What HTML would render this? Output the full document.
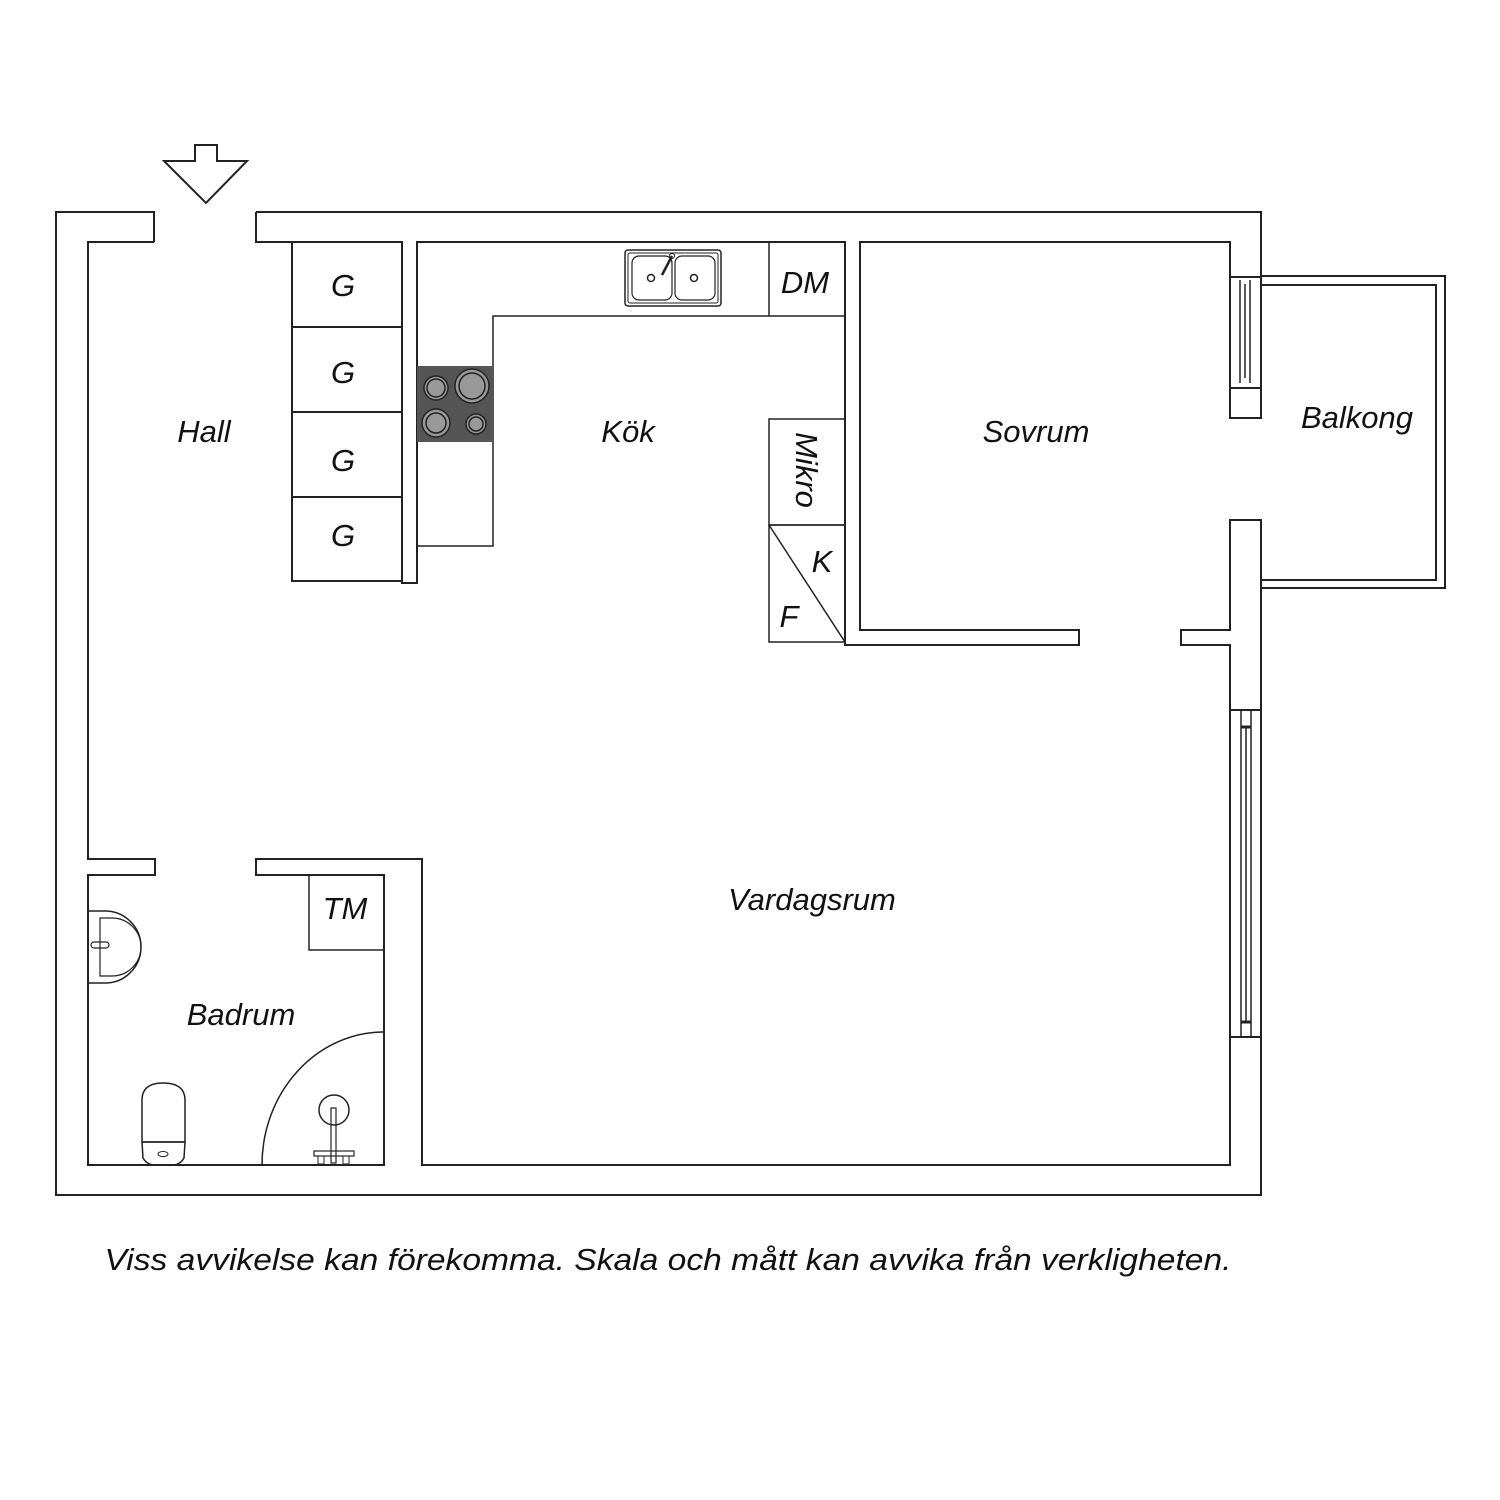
<!DOCTYPE html>
<html><head><style>
html,body{margin:0;padding:0;background:#fff;width:1500px;height:1500px;overflow:hidden}
svg{display:block}
text{font-family:"Liberation Sans",sans-serif;font-style:italic;fill:#111}
</style></head><body>
<svg width="1500" height="1500" viewBox="0 0 1500 1500" xmlns="http://www.w3.org/2000/svg">
<g fill="none" stroke="#222" stroke-width="2">
<polygon points="195,145 217,145 217,161 247,161 206,203 164,161 195,161"/>
<path d="M154,242 V212 H56 V1195 H1261 V1037"/>
<path d="M1261,710 V520 H1230 V630 H1181 V645 H1230 V710"/>
<path d="M1230,1037 V1165 H422 V859 H256 V875 H384 V1165 H88 V875 H155 V859 H88 V242 H154"/>
<path d="M256,212 H1261 V277 M1230,277 V242 H860 V630 H1079 V645 H845 V242 H417 V583 H402 V242 H256 V212"/>
<rect x="1230" y="710" width="31" height="327"/>
<line x1="1241" y1="710" x2="1241" y2="1037" stroke-width="1.5"/>
<line x1="1251" y1="710" x2="1251" y2="1037" stroke-width="1.5"/>
<line x1="1246" y1="727" x2="1246" y2="1022" stroke-width="1.5"/>
<line x1="1241" y1="727" x2="1251" y2="727" stroke-width="3"/>
<line x1="1241" y1="1022" x2="1251" y2="1022" stroke-width="3"/>
<rect x="1230" y="277" width="31" height="111"/>
<line x1="1240" y1="280" x2="1240" y2="383" stroke-width="1.5"/>
<line x1="1250" y1="280" x2="1250" y2="383" stroke-width="1.5"/>
<line x1="1245" y1="284" x2="1245" y2="378" stroke-width="1.5"/>
<rect x="1230" y="388" width="31" height="30"/>
<path d="M1261,276 H1445 V588 H1261"/>
<path d="M1261,285 H1436 V580 H1261"/>
<rect x="292" y="242" width="110" height="85"/>
<rect x="292" y="327" width="110" height="85"/>
<rect x="292" y="412" width="110" height="85"/>
<rect x="292" y="497" width="110" height="84"/>
<path d="M845,316 H493 V546 H417" stroke-width="1.5"/>
<line x1="769" y1="242" x2="769" y2="316" stroke-width="1.5"/>
<rect x="625" y="250" width="96" height="56" rx="3" stroke-width="1.5"/>
<rect x="628" y="253" width="90" height="50" rx="2" stroke-width="1"/>
<rect x="632" y="256" width="40" height="44" rx="7" stroke-width="1.2"/>
<rect x="675" y="256" width="40" height="44" rx="7" stroke-width="1.2"/>
<circle cx="651" cy="278" r="3.5" stroke-width="1.5"/>
<circle cx="694" cy="278" r="3.5" stroke-width="1.5"/>
<line x1="662" y1="275" x2="672" y2="256" stroke-width="2.5"/>
<circle cx="672" cy="256" r="2.5" stroke-width="1"/>
<rect x="769" y="419" width="76" height="106" stroke-width="1.5"/>
<rect x="769" y="525" width="76" height="117" stroke-width="1.5"/>
<line x1="769" y1="525" x2="845" y2="642" stroke-width="1.5"/>
<rect x="309" y="875" width="75" height="75" stroke-width="1.5"/>
<path d="M88,911 H105 A36,36 0 0 1 105,983 H88" stroke-width="1.5"/>
<path d="M100,918 H112 A29,29 0 0 1 112,976 H100 Z" stroke-width="1.2"/>
<rect x="91" y="942" width="18" height="6" rx="3" stroke-width="1.2"/>
<path d="M262,1165 A122,133 0 0 1 384,1032" stroke-width="1.5"/>
<path d="M142,1142 V1100 Q142,1083 163,1083 Q185,1083 185,1100 V1142 Z" stroke-width="1.5"/>
<path d="M142,1142 H185 L184,1158 Q180,1165 172,1165 H155 Q147,1165 143,1158 Z" stroke-width="1.5"/>
<ellipse cx="163" cy="1154" rx="5" ry="2.5" stroke-width="1"/>
<circle cx="334" cy="1110" r="15" stroke-width="1.5"/>
<rect x="331" y="1108" width="5" height="55" stroke-width="1.2"/>
<rect x="314" y="1151" width="40" height="5" stroke-width="1.2"/>
<rect x="318" y="1156" width="6" height="8" stroke-width="1"/>
<rect x="343" y="1156" width="6" height="8" stroke-width="1"/>
</g>
<rect x="417" y="366" width="76" height="76" fill="#555"/>
<g stroke="#222" stroke-width="1.5" fill="#999">
<circle cx="436" cy="388" r="12"/><circle cx="436" cy="388" r="9" fill="none"/>
<circle cx="472" cy="386" r="17"/><circle cx="472" cy="386" r="13" fill="none"/>
<circle cx="436" cy="423" r="14"/><circle cx="436" cy="423" r="10" fill="none"/>
<circle cx="476" cy="424" r="10"/><circle cx="476" cy="424" r="7" fill="none"/>
</g>
<g font-size="31">
<text x="204" y="442" text-anchor="middle">Hall</text>
<text x="628" y="442" text-anchor="middle">Kök</text>
<text x="1036" y="442" text-anchor="middle">Sovrum</text>
<text x="1357" y="428" text-anchor="middle">Balkong</text>
<text x="812" y="910" text-anchor="middle">Vardagsrum</text>
<text x="241" y="1025" text-anchor="middle">Badrum</text>
<text x="343" y="296" text-anchor="middle">G</text>
<text x="343" y="383" text-anchor="middle">G</text>
<text x="343" y="471" text-anchor="middle">G</text>
<text x="343" y="546" text-anchor="middle">G</text>
<text x="805" y="293" text-anchor="middle">DM</text>
<text x="345" y="919" text-anchor="middle">TM</text>
<text x="822" y="572" text-anchor="middle">K</text>
<text x="789" y="627" text-anchor="middle">F</text>
<text transform="translate(796,470) rotate(90)" text-anchor="middle">Mikro</text>
</g>
<text x="668" y="1270" text-anchor="middle" font-size="31" textLength="1127" lengthAdjust="spacingAndGlyphs">Viss avvikelse kan förekomma. Skala och mått kan avvika från verkligheten.</text>
</svg>
</body></html>
